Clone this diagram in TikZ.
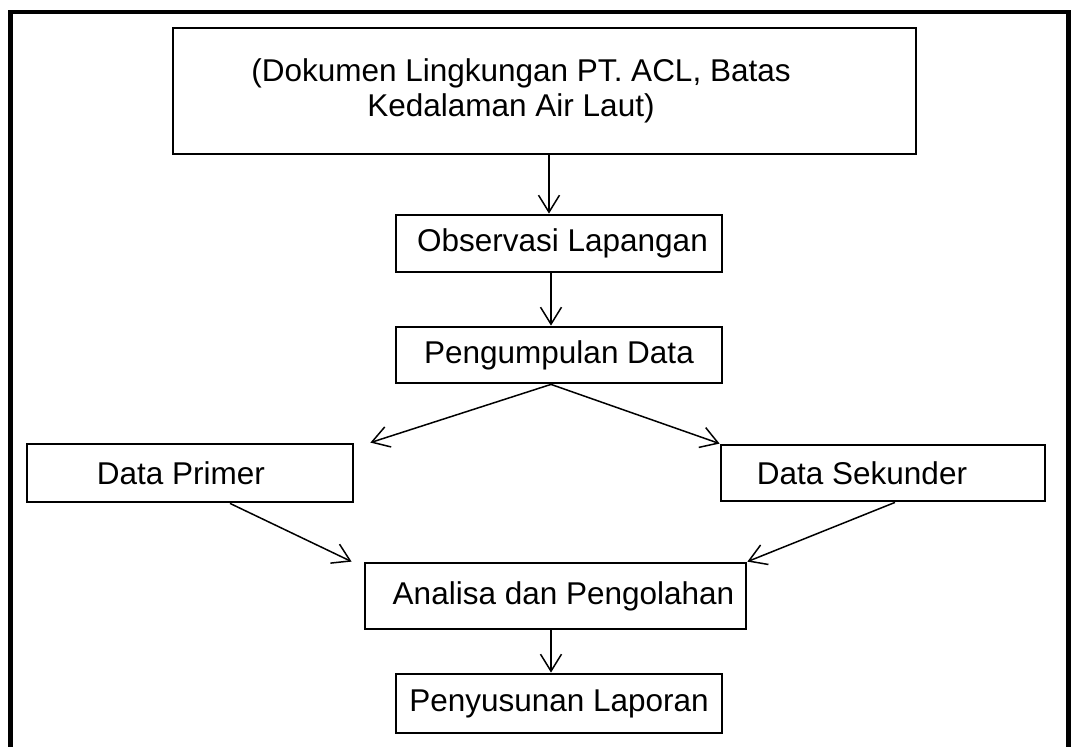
\documentclass[tikz,border=0pt]{standalone}
\usepackage{fontspec}
\setmainfont{Liberation Sans}
\usetikzlibrary{arrows.meta}

\begin{document}
\begin{tikzpicture}[
		x=1pt, y=-1pt,
		mynode/.style={draw, line width = 2.8pt, inner sep=0pt, align = center, font=\fontsize{31.5}{34.5}\selectfont},
		myarrow/.style={-{Straight Barb[length=17pt, width=21pt]}, line width = 1.5pt}
	]

	\useasboundingbox (0,0) rectangle (1071,747);

	\draw[line width = 4.5pt] (10.5,747) -- (10.5,12) -- (1068.5,12) -- (1068.5,747);

	\node[mynode, minimum width=743pt, minimum height=126pt] (dok) at (544.5,91) {(Dokumen Lingkungan PT. ACL, Batas\hspace*{47pt}\\Kedalaman Air Laut)\hspace*{67pt}};
	\node[mynode, minimum width=326pt, minimum height=57pt] (obs) at (559,243.5) {\hspace*{7pt}Observasi Lapangan};
	\node[mynode, minimum width=326pt, minimum height=56pt] (pum) at (559,355) {Pengumpulan Data};
	\node[mynode, minimum width=326pt, minimum height=58pt] (prim) at (190,473) {Data Primer\hspace*{18pt}};
	\node[mynode, minimum width=324pt, minimum height=56pt] (sek) at (883,473) {Data Sekunder\hspace*{42pt}};
	\node[mynode, minimum width=381pt, minimum height=66pt] (ana) at (555.5,596) {\hspace*{16pt}Analisa dan Pengolahan};
	\node[mynode, minimum width=326pt, minimum height=59pt] (pen) at (559,703.5) {Penyusunan Laporan};

	\draw[myarrow] ([xshift=4.5pt]dok.south) -- ([xshift=-10pt]obs.north);
	\draw[myarrow] ([xshift=-8pt]obs.south) -- ([xshift=-8pt]pum.north);
	\draw[myarrow] ([xshift=-8pt]pum.south) -- ([xshift=16pt]prim.north east);
	\draw[myarrow] ([xshift=-8pt]pum.south) -- (sek.north west);
	\draw[myarrow] ([xshift=40pt]prim.south) -- ([xshift=-12pt]ana.north west);
	\draw[myarrow] ([xshift=12pt]sek.south) -- (ana.north east);
	\draw[myarrow] ([xshift=-4.5pt]ana.south) -- ([xshift=-8pt]pen.north);

\end{tikzpicture}
\end{document}
